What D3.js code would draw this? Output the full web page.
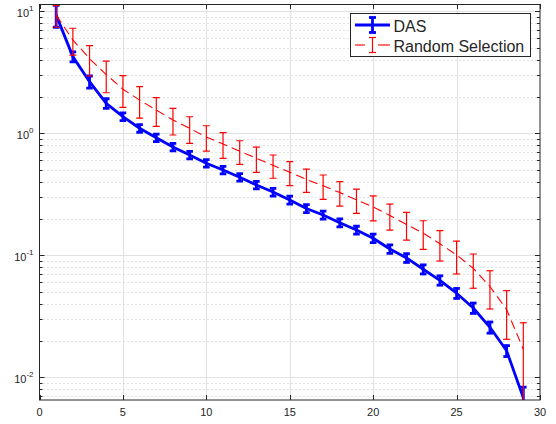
<!DOCTYPE html>
<html><head><meta charset="utf-8">
<script src="https://cdn.jsdelivr.net/npm/d3@7"></script>
<style>
body{margin:0;background:#fff}
svg{display:block}
text{font-family:"Liberation Sans",Arial,Helvetica,sans-serif;fill:#262626}
</style>
</head><body>
<svg id="c" width="556" height="424"></svg>
<script>
// ---- data ----
const iterations = [1,2,3,4,5,6,7,8,9,10,11,12,13,14,15,16,17,18,19,20,21,22,23,24,25,26,27,28,29];
const dasMean = [9.3,4.25,2.65,1.76,1.37,1.10,0.92,0.772,0.664,0.568,0.50,0.436,0.377,0.33,0.284,0.242,0.214,0.185,0.161,0.138,0.1126,0.0952,0.0769,0.0624,0.0489,0.037,0.0257,0.0165,0.0068];
const dasErr = [1.9,0.40,0.30,0.16,0.10,0.08,0.065,0.055,0.047,0.04,0.035,0.031,0.027,0.024,0.021,0.018,0.016,0.014,0.012,0.011,0.009,0.0078,0.0066,0.0055,0.0046,0.0036,0.0027,0.0017,0.0015];
const randMean = [9.3,5.82,4.09,3.03,2.30,1.87,1.55,1.285,1.097,0.934,0.817,0.713,0.624,0.546,0.479,0.419,0.371,0.327,0.285,0.249,0.212,0.179,0.152,0.1245,0.1006,0.0781,0.0555,0.0359,0.017];
const randErr = [1.9,1.44,1.14,0.88,0.67,0.54,0.41,0.317,0.27,0.219,0.194,0.156,0.145,0.118,0.107,0.0905,0.084,0.074,0.064,0.0577,0.051,0.0458,0.040,0.0347,0.0303,0.0244,0.0192,0.0154,0.011];
const xTicks = [0,5,10,15,20,25,30];
const yTickExps = [-2,-1,0,1];
const seriesNames = ["DAS","Random Selection"];

// ---- layout ----
const L = 39.5, R = 540, T = 4, B = 400;
const yMin = Math.pow(10,-2.186), yMax = Math.pow(10,1.0598);
const svg = d3.select("#c");
const x = d3.scaleLinear().domain([0,30]).range([L,R]);
const y = d3.scaleLog().domain([yMin,yMax]).range([B,T]);
const axisColor = "#262626";

// minor tick values
const minorVals = [];
for (let e=-3;e<=1;e++) for (let k=2;k<=9;k++){ const v=k*Math.pow(10,e); if(v>yMin && v<yMax) minorVals.push(v); }
const majorVals = yTickExps.map(e=>Math.pow(10,e));

// ---- grid ----
const grid = svg.append("g");
grid.selectAll("line.ym").data(minorVals).enter().append("line")
  .attr("x1",L).attr("x2",R).attr("y1",d=>Math.round(y(d))+0.5).attr("y2",d=>Math.round(y(d))+0.5)
  .attr("stroke","#c4c4c4").attr("stroke-width",1).attr("stroke-dasharray","1,3");
grid.selectAll("line.yM").data(majorVals).enter().append("line")
  .attr("x1",L).attr("x2",R).attr("y1",d=>Math.round(y(d))+0.5).attr("y2",d=>Math.round(y(d))+0.5)
  .attr("stroke","#e1e1e1").attr("stroke-width",1);
grid.selectAll("line.xM").data(xTicks.slice(1,-1)).enter().append("line")
  .attr("x1",d=>Math.round(x(d))+0.5).attr("x2",d=>Math.round(x(d))+0.5).attr("y1",T).attr("y2",B)
  .attr("stroke","#e1e1e1").attr("stroke-width",1);

// ---- clip ----
svg.append("defs").append("clipPath").attr("id","clip").append("rect")
  .attr("x",L).attr("y",T).attr("width",R-L).attr("height",B-T);
const plot = svg.append("g").attr("clip-path","url(#clip)");

function drawSeries(mean, err, color, lw, dash, capW){
  const pts = iterations.map((it,i)=>({x:it, v:mean[i], e:err[i]}));
  const g = plot.append("g");
  g.append("path").datum(pts)
    .attr("d", d3.line().x(d=>x(d.x)).y(d=>y(d.v)))
    .attr("fill","none").attr("stroke",color).attr("stroke-width",lw)
    .attr("stroke-dasharray",dash).attr("stroke-linejoin","round");
  const bw = dash ? 1.2 : lw;
  const eb = g.selectAll("g.eb").data(pts).enter().append("g");
  const lo = d => d.v - d.e > 0 ? y(d.v - d.e) : B + 10;
  const hi = d => y(d.v + d.e);
  eb.append("line").attr("x1",d=>x(d.x)).attr("x2",d=>x(d.x)).attr("y1",lo).attr("y2",hi)
    .attr("stroke",color).attr("stroke-width",bw);
  eb.append("line").attr("x1",d=>x(d.x)-capW).attr("x2",d=>x(d.x)+capW).attr("y1",hi).attr("y2",hi)
    .attr("stroke",color).attr("stroke-width",bw);
  eb.filter(d=>d.v-d.e>0).append("line").attr("x1",d=>x(d.x)-capW).attr("x2",d=>x(d.x)+capW).attr("y1",lo).attr("y2",lo)
    .attr("stroke",color).attr("stroke-width",bw);
}
drawSeries(dasMean, dasErr, "#0000ff", 2.8, null, 3.3);
drawSeries(randMean, randErr, "#ff0000", 1.1, "9,5", 3.5);

// ---- axes box and ticks ----
const ax = svg.append("g").attr("stroke",axisColor).attr("stroke-width",1).attr("fill","none");
ax.append("rect").attr("x",L).attr("y",T+0.5).attr("width",R-L).attr("height",B-T-0.5);
ax.selectAll("line.xt").data(xTicks).enter().append("line")
  .attr("x1",d=>Math.round(x(d))+0.5).attr("x2",d=>Math.round(x(d))+0.5).attr("y1",B).attr("y2",B-5);
ax.selectAll("line.xtt").data(xTicks).enter().append("line")
  .attr("x1",d=>Math.round(x(d))+0.5).attr("x2",d=>Math.round(x(d))+0.5).attr("y1",T).attr("y2",T+5);
[[L,1],[R,-1]].forEach(([x0,s])=>{
  ax.selectAll(null).data(majorVals).enter().append("line")
    .attr("x1",x0).attr("x2",x0+s*5).attr("y1",d=>Math.round(y(d))+0.5).attr("y2",d=>Math.round(y(d))+0.5);
  ax.selectAll(null).data(minorVals).enter().append("line")
    .attr("x1",x0).attr("x2",x0+s*3).attr("y1",d=>Math.round(y(d))+0.5).attr("y2",d=>Math.round(y(d))+0.5);
});

// tick labels
svg.selectAll("text.xl").data(xTicks).enter().append("text")
  .attr("x",d=>x(d)).attr("y",416).attr("text-anchor","middle").attr("font-size",11).text(d=>d);
const yl = svg.selectAll("text.yl").data(yTickExps).enter().append("text")
  .attr("x",33.5).attr("y",d=>y(Math.pow(10,d))+5.5).attr("text-anchor","end").attr("font-size",11);
yl.append("tspan").text("10");
yl.append("tspan").attr("dy",-5.5).attr("font-size",8).text(d=>d<0?"-"+(-d):String(d));

// ---- legend ----
const lg = svg.append("g");
lg.append("rect").attr("x",350.5).attr("y",13.5).attr("width",180).attr("height",43)
  .attr("fill","#fff").attr("stroke",axisColor).attr("stroke-width",1);
// DAS entry
lg.append("line").attr("x1",355).attr("x2",390).attr("y1",25).attr("y2",25).attr("stroke","#0000ff").attr("stroke-width",2.8);
lg.append("line").attr("x1",372.5).attr("x2",372.5).attr("y1",17.5).attr("y2",32.5).attr("stroke","#0000ff").attr("stroke-width",2.8);
[17.5,32.5].forEach(yy=>lg.append("line").attr("x1",369).attr("x2",376).attr("y1",yy).attr("y2",yy).attr("stroke","#0000ff").attr("stroke-width",2.8));
// Random entry
[[355,365],[378,390]].forEach(([a,b])=>lg.append("line").attr("x1",a).attr("x2",b).attr("y1",45).attr("y2",45).attr("stroke","#ff0000").attr("stroke-width",1.1));
lg.append("line").attr("x1",372.5).attr("x2",372.5).attr("y1",37.5).attr("y2",52.5).attr("stroke","#ff0000").attr("stroke-width",1.2);
[37.5,52.5].forEach(yy=>lg.append("line").attr("x1",369).attr("x2",376).attr("y1",yy).attr("y2",yy).attr("stroke","#ff0000").attr("stroke-width",1.2));
lg.selectAll("text.lt").data(seriesNames).enter().append("text")
  .attr("x",393.5).attr("y",(d,i)=>31.5+i*20).attr("font-size",16).text(d=>d);
</script>
</body></html>
